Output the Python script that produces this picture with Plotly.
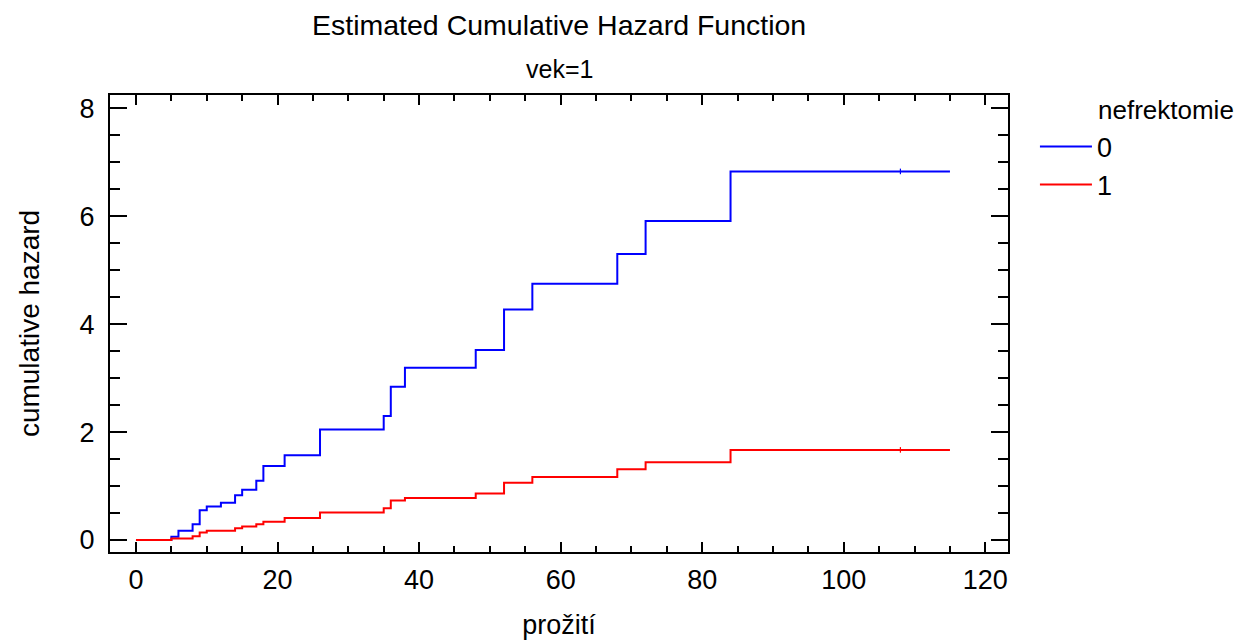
import numpy as np
import plotly.graph_objects as go

# ---- data ----
x_group0 = [0, 5, 6, 8, 9, 10, 12, 14, 15, 17, 18, 21, 26, 35, 36, 38, 48, 52, 56, 68, 72, 84, 115]
y_group0 = [0, 0.06, 0.17, 0.29, 0.55, 0.62, 0.69, 0.83, 0.93, 1.10, 1.37, 1.57, 2.05, 2.30, 2.84,
            3.19, 3.52, 4.27, 4.75, 5.30, 5.91, 6.83, 6.83]
x_group1 = [0, 5, 8, 9, 10, 14, 15, 17, 18, 21, 26, 35, 36, 38, 48, 52, 56, 68, 72, 84, 115]
y_group1 = [0, 0.03, 0.07, 0.14, 0.17, 0.22, 0.25, 0.29, 0.34, 0.41, 0.51, 0.59, 0.73, 0.78,
            0.86, 1.06, 1.17, 1.31, 1.44, 1.67, 1.67]
censor_times = [108]
group_labels = ["0", "1"]
group_colors = ["#0000FF", "#FF0000"]

title_text = "Estimated Cumulative Hazard Function"
subtitle_text = "vek=1"
x_title = "prožití"
y_title = "cumulative hazard"
legend_title = "nefrektomie"

FONT = "Liberation Sans, Arial, sans-serif"

fig = go.Figure()
for xs, ys, lab, col in [(x_group0, y_group0, group_labels[0], group_colors[0]),
                         (x_group1, y_group1, group_labels[1], group_colors[1])]:
    fig.add_trace(go.Scatter(x=xs, y=ys, mode="lines", line=dict(color=col, width=2, shape="hv"),
                             name=lab))
for xs, ys, col in [(x_group0, y_group0, group_colors[0]), (x_group1, y_group1, group_colors[1])]:
    xa = np.array(xs)
    ya = np.array(ys)
    cy = [ya[np.searchsorted(xa, t, side="right") - 1] for t in censor_times]
    fig.add_trace(go.Scatter(x=censor_times, y=cy, mode="markers", showlegend=False,
                             marker=dict(symbol="line-ns", size=4, line=dict(color=col, width=1.2))))

axis_common = dict(showgrid=False, zeroline=False, showline=True, linecolor="black", linewidth=2,
                   mirror="ticks", ticks="inside", tickcolor="black", tickwidth=1.8, automargin=False,
                   tickfont=dict(family=FONT, size=27, color="black"))
fig.update_xaxes(**axis_common, range=[-3.67, 123.2], tickmode="array",
                 tickvals=[0, 20, 40, 60, 80, 100, 120], ticklen=10, ticklabelstandoff=3,
                 minor=dict(ticks="inside", dtick=5, ticklen=6, tickcolor="black", tickwidth=1.8),
                 title=dict(text=x_title, font=dict(family=FONT, size=27, color="black"), standoff=21))
fig.update_yaxes(**axis_common, range=[-0.222, 8.246], tickmode="array",
                 tickvals=[0, 2, 4, 6, 8], ticklen=17, ticklabelstandoff=8,
                 minor=dict(ticks="inside", dtick=0.5, ticklen=10, tickcolor="black", tickwidth=1.8),
                 title=dict(text=y_title, font=dict(family=FONT, size=28, color="black"), standoff=32))

fig.add_annotation(text=title_text, xref="paper", yref="paper", x=0.5, y=1.153, showarrow=False,
                   yanchor="middle", font=dict(family=FONT, size=28.5, color="black"))
fig.add_annotation(text=subtitle_text, xref="paper", yref="paper", x=0.5, y=1.056, showarrow=False,
                   yanchor="middle", font=dict(family=FONT, size=25, color="black"))
fig.add_annotation(text=legend_title, xref="paper", yref="paper", x=1.098, y=0.968, showarrow=False,
                   xanchor="left", yanchor="middle", font=dict(family=FONT, size=26, color="black"))

fig.update_layout(width=1235, height=644, plot_bgcolor="white", paper_bgcolor="white",
                  margin=dict(l=110, r=227, t=95, b=92),
                  showlegend=True,
                  legend=dict(x=1.03, y=0.94, xanchor="left", yanchor="top", bgcolor="rgba(0,0,0,0)",
                              font=dict(family=FONT, size=27, color="black"), itemwidth=52,
                              tracegroupgap=0))
fig.write_html("out.html", config={"displayModeBar": False},
               post_script="document.body.style.margin='0';")
